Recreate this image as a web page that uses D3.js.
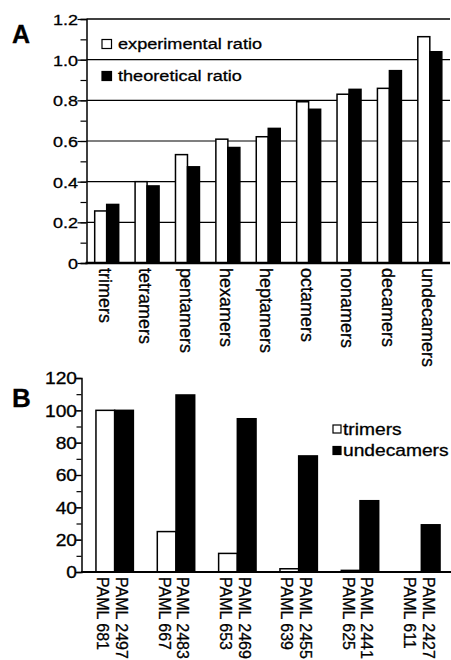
<!DOCTYPE html>
<html>
<head>
<meta charset="utf-8">
<script src="https://cdn.jsdelivr.net/npm/d3@7"></script>
<style>
  body { margin: 0; background: #fff; }
  text { font-family: Arial, "Liberation Sans", Helvetica, sans-serif; fill: #000; stroke: #000; stroke-width: 0.3px; }
</style>
</head>
<body>
<div id="chart"></div>
<script>
// panel A data
const categoriesA = ["trimers", "tetramers", "pentamers", "hexamers", "heptamers",
                     "octamers", "nonamers", "decamers", "undecamers"];
const experimentalA = [0.256, 0.40, 0.533, 0.609, 0.621, 0.793, 0.83, 0.859, 1.113];
const theoreticalA = [0.288, 0.379, 0.473, 0.568, 0.662, 0.756, 0.854, 0.946, 1.039];
const seriesA = ["experimental ratio", "theoretical ratio"];
const ticksA = [0, 0.2, 0.4, 0.6, 0.8, 1.0, 1.2];

// panel B data
const trimerStrains = ["PAML 681", "PAML 667", "PAML 653", "PAML 639", "PAML 625", "PAML 611"];
const undecamerStrains = ["PAML 2497", "PAML 2483", "PAML 2469", "PAML 2455", "PAML 2441", "PAML 2427"];
const trimersB = [100, 25, 11.5, 2, 1, 0];
const undecamersB = [100, 109.5, 94.8, 71.8, 44.1, 29.2];
const seriesB = ["trimers", "undecamers"];
const ticksB = [0, 20, 40, 60, 80, 100, 120];

var width = 451,
    height = 660;

var svg = d3.select("#chart").append("svg")
  .attr("width", width)
  .attr("height", height);

const fills = ["#fff", "#000"];

// ---------- panel A ----------
var xA = d3.scaleBand()
  .domain(categoriesA)
  .range([86.5, 450])
  .paddingInner(0.406)
  .paddingOuter(0.203);

var xA1 = d3.scaleBand()
  .domain(seriesA)
  .range([0, xA.bandwidth()]);

var yA = d3.scaleLinear()
  .domain([0, 1.2])
  .range([263, 19]);

var gA = svg.append("g");

// gridlines behind bars
gA.selectAll(".grid")
  .data(ticksA.slice(1))
  .enter().append("line")
  .attr("x1", xA.range()[0])
  .attr("x2", xA.range()[1])
  .attr("y1", d => yA(d))
  .attr("y2", d => yA(d))
  .attr("stroke", "#000")
  .attr("stroke-width", d => d === 1.2 ? 1.5 : 1.1);

const rowsA = categoriesA.map((c, i) => ({ cat: c, values: [experimentalA[i], theoreticalA[i]] }));

gA.selectAll(".groupA")
  .data(rowsA)
  .enter().append("g")
  .attr("transform", d => "translate(" + xA(d.cat) + ",0)")
  .selectAll("rect")
  .data(d => d.values.map((v, j) => ({ key: seriesA[j], v: v, j: j })))
  .enter().append("rect")
  .attr("x", d => xA1(d.key))
  .attr("width", xA1.bandwidth())
  .attr("y", d => yA(d.v))
  .attr("height", d => yA(0) - yA(d.v))
  .attr("fill", d => fills[d.j])
  .attr("stroke", "#000")
  .attr("stroke-width", 1.5);

// left axis with minor ticks
var axisA = gA.append("g")
  .attr("transform", "translate(86.5,0)")
  .call(d3.axisLeft(yA).tickValues(d3.range(0, 1.21, 0.1)).tickSize(6).tickFormat(""));
axisA.select(".domain").attr("stroke-width", 1.5);
axisA.selectAll(".tick line").attr("stroke-width", 1.2);

var axisALabels = gA.append("g")
  .attr("transform", "translate(86.5,0)")
  .call(d3.axisLeft(yA).tickValues(ticksA).tickSize(9)
    .tickFormat(d => d === 0 ? "0" : d3.format(".1f")(d)));
axisALabels.select(".domain").remove();
axisALabels.selectAll(".tick line").attr("stroke-width", 1.2);
axisALabels.selectAll(".tick text")
  .attr("x", -8.5 / 1.2)
  .attr("dy", "0.36em")
  .attr("transform", "scale(1.2,1)")
  .style("font-size", "15px");

// x axis line
gA.append("line")
  .attr("x1", xA.range()[0] - 1)
  .attr("x2", xA.range()[1])
  .attr("y1", yA(0))
  .attr("y2", yA(0))
  .attr("stroke", "#000")
  .attr("stroke-width", 2.4);

// rotated category labels
gA.selectAll(".labA")
  .data(categoriesA)
  .enter().append("text")
  .attr("transform", d => "translate(" + (xA(d) + xA.bandwidth() / 2 - 1.5) + ",268) rotate(90)")
  .attr("dy", "0.35em")
  .style("font-size", "18px")
  .text(d => d);

// legend A
var legA = gA.selectAll(".legA")
  .data(seriesA)
  .enter().append("g")
  .attr("transform", (d, i) => "translate(102," + (39.5 + i * 32) + ")");
legA.append("rect")
  .attr("width", 9.5)
  .attr("height", 9)
  .attr("fill", (d, i) => fills[i])
  .attr("stroke", "#000")
  .attr("stroke-width", 1.2);
legA.append("text")
  .attr("transform", "translate(16,9) scale(1.17,1)")
  .style("font-size", "15.5px")
  .text(d => d);

svg.append("text")
  .attr("x", 12)
  .attr("y", 43)
  .style("font-size", "25px")
  .style("font-weight", "bold")
  .text("A");

// ---------- panel B ----------
var xB = d3.scaleBand()
  .domain(trimerStrains)
  .range([84, 452])
  .paddingInner(0.39)
  .paddingOuter(0.195);

var xB1 = d3.scaleBand()
  .domain(seriesB)
  .range([0, xB.bandwidth()]);

var yB = d3.scaleLinear()
  .domain([0, 120])
  .range([572, 378]);

var gB = svg.append("g");

const rowsB = trimerStrains.map((s, i) => ({
  strain: s,
  values: [trimersB[i], undecamersB[i]],
  names: [s, undecamerStrains[i]]
}));

var groupsB = gB.selectAll(".groupB")
  .data(rowsB)
  .enter().append("g")
  .attr("transform", d => "translate(" + xB(d.strain) + ",0)");

groupsB.selectAll("rect")
  .data(d => d.values.map((v, j) => ({ key: seriesB[j], v: v, j: j })))
  .enter().append("rect")
  .filter(d => d.v > 0)
  .attr("x", d => xB1(d.key))
  .attr("width", xB1.bandwidth())
  .attr("y", d => yB(d.v))
  .attr("height", d => yB(0) - yB(d.v))
  .attr("fill", d => fills[d.j])
  .attr("stroke", "#000")
  .attr("stroke-width", 1.5);

groupsB.selectAll("text")
  .data(d => d.names.map((n, j) => ({ key: seriesB[j], name: n })))
  .enter().append("text")
  .attr("transform", d => "translate(" + (xB1(d.key) + xB1.bandwidth() / 2 - 2.5) + ",577) rotate(90)")
  .attr("dy", "0.35em")
  .style("font-size", "16px")
  .text(d => d.name);

var axisB = gB.append("g")
  .attr("transform", "translate(81.5,0)")
  .call(d3.axisLeft(yB).tickValues(d3.range(0, 121, 10)).tickSize(5).tickFormat(""));
axisB.select(".domain").attr("stroke-width", 1.5);
axisB.selectAll(".tick line").attr("stroke-width", 1.2);

var axisBLabels = gB.append("g")
  .attr("transform", "translate(81.5,0)")
  .call(d3.axisLeft(yB).tickValues(ticksB).tickSize(6));
axisBLabels.select(".domain").remove();
axisBLabels.selectAll(".tick line").attr("stroke-width", 1.2);
axisBLabels.selectAll(".tick text")
  .attr("x", -4.5 / 1.2)
  .attr("dy", "0.36em")
  .attr("transform", "scale(1.2,1)")
  .style("font-size", "16px");

gB.append("line")
  .attr("x1", 81)
  .attr("x2", width)
  .attr("y1", yB(0))
  .attr("y2", yB(0))
  .attr("stroke", "#000")
  .attr("stroke-width", 1.8);

var legB = gB.selectAll(".legB")
  .data(seriesB)
  .enter().append("g")
  .attr("transform", (d, i) => "translate(333," + (425 + i * 21.5) + ")");
legB.append("rect")
  .attr("width", 8)
  .attr("height", 8)
  .attr("fill", (d, i) => fills[i])
  .attr("stroke", "#000")
  .attr("stroke-width", 1.2);
legB.append("text")
  .attr("transform", "translate(10,9.5) scale(1.2,1)")
  .style("font-size", "16px")
  .text(d => d);

svg.append("text")
  .attr("x", 12)
  .attr("y", 407)
  .style("font-size", "26px")
  .style("font-weight", "bold")
  .text("B");
</script>
</body>
</html>
